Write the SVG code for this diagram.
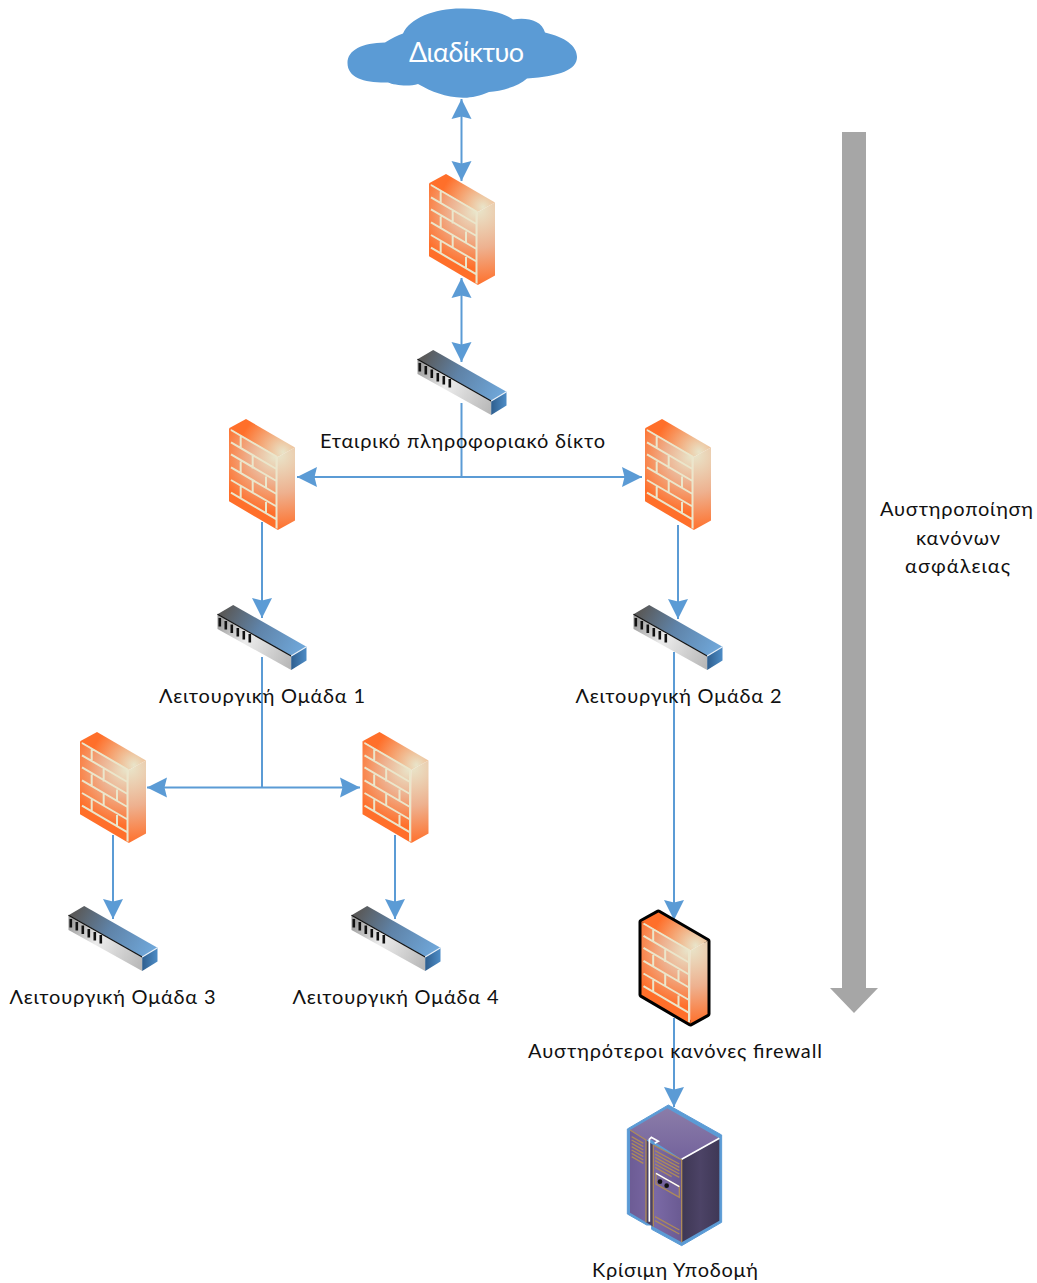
<svg xmlns="http://www.w3.org/2000/svg" width="1037" height="1283" viewBox="0 0 1037 1283">
<style>
.t{font-family:"Lato","Open Sans","Noto Sans",sans-serif;font-size:20px;fill:#111;text-anchor:middle}
.c{fill:none;stroke:#5b9bd5;stroke-width:2}
.b{fill:none;stroke:#ebe6cb;stroke-width:2}
.l{fill:none;stroke:#ad8a5a;stroke-width:4}
</style>
<defs>
<marker id="a" markerUnits="userSpaceOnUse" markerWidth="22" markerHeight="22" refX="20" refY="10.5" orient="auto-start-reverse" viewBox="0 0 22 22"><path d="M0 0.5L20 10.5L0 20.5L2.500 10.5Z" fill="#5b9bd5"/></marker>
<radialGradient id="ff" gradientUnits="userSpaceOnUse" cx="46" cy="38" r="56"><stop offset="0" stop-color="#e9e4c9"/><stop offset=".45" stop-color="#eeb18f"/><stop offset="1" stop-color="#ff6f2a"/></radialGradient>
<radialGradient id="fs" gradientUnits="userSpaceOnUse" cx="50" cy="36" r="76"><stop offset="0" stop-color="#e9e4c9"/><stop offset=".5" stop-color="#eeb18f"/><stop offset="1" stop-color="#ff6f2a"/></radialGradient>
<radialGradient id="ft" gradientUnits="userSpaceOnUse" cx="54" cy="33" r="44"><stop offset="0" stop-color="#e9e4c9"/><stop offset="1" stop-color="#ff6f2a"/></radialGradient>
<linearGradient id="st" gradientUnits="userSpaceOnUse" x1="8" y1="5" x2="82" y2="46"><stop offset="0" stop-color="#5a5a5a"/><stop offset=".45" stop-color="#5f83a8"/><stop offset="1" stop-color="#6fa6d8"/></linearGradient>
<linearGradient id="sf" gradientUnits="userSpaceOnUse" x1="0" y1="16" x2="74" y2="58"><stop offset="0" stop-color="#9a9a9a"/><stop offset=".4" stop-color="#ececec"/><stop offset="1" stop-color="#b8b8b8"/></linearGradient>
<linearGradient id="ss" gradientUnits="userSpaceOnUse" x1="74" y1="52" x2="89" y2="52"><stop offset="0" stop-color="#2f5f8f"/><stop offset="1" stop-color="#4d8cc6"/></linearGradient>
<linearGradient id="vt" gradientUnits="userSpaceOnUse" x1="190" y1="60" x2="190" y2="200"><stop offset="0" stop-color="#8a7ca8"/><stop offset="1" stop-color="#75649d"/></linearGradient>
<linearGradient id="vf" gradientUnits="userSpaceOnUse" x1="60" y1="0" x2="215" y2="0"><stop offset="0" stop-color="#6d5c95"/><stop offset=".5" stop-color="#7a69a5"/><stop offset="1" stop-color="#6a5a92"/></linearGradient>
<linearGradient id="vs" gradientUnits="userSpaceOnUse" x1="215" y1="0" x2="328" y2="0"><stop offset="0" stop-color="#3e3754"/><stop offset=".5" stop-color="#4c4366"/><stop offset="1" stop-color="#3f3856"/></linearGradient>
<g id="fw">
<path d="M0 9.300L48.800 38V111L0 82.300Z" fill="url(#ff)"/>
<path d="M0 9.300L17 0L66 28.500L48.800 38Z" fill="url(#ft)"/>
<path d="M48.800 38L66 28.500V101.500L48.800 111Z" fill="url(#fs)"/>
<path class="b" d="M2 11L47.500 37.500V109.500M2 23.300L47.500 50M2 35.300L47.500 62M2 48.300L47.500 75M2 61L47.500 87.500M2 73.700L47.500 100.300M11.700 17.500V29.500M23.700 37V49.500M11.700 42.500V54.500M37 57.500V69.500M23.700 61V73.500M11.700 67.500V79.500M37 83V95"/>
</g>
<g id="sw">
<path d="M0 9.300L15.700 0L89 41.700L73.700 51Z" fill="url(#st)"/>
<path d="M0 9.300L73.700 51V65L0 24Z" fill="url(#sf)"/>
<path d="M73.700 51L89 41.700V55.500L73.700 65Z" fill="url(#ss)"/>
<path d="M0 9.300L73.700 51" stroke="#111" stroke-width="1.200" fill="none"/>
<path d="M73.700 51L89 41.700" stroke="#e8f0f8" stroke-width="1.200" fill="none"/>
<path d="M2.300 13V21.500M8.300 16V24.500M14.300 19.500V28M20.300 23V31.500M26.300 26V34.500M32.300 29V37.500" stroke="#111" stroke-width="2.600" fill="none"/>
</g>
</defs>

<g id="arrow-scale"><path d="M842 132H866V988H878L854 1013L830 988H842Z" fill="#a6a6a6"/></g>

<g id="connectors">
<path class="c" d="M461.500 99V181" marker-start="url(#a)" marker-end="url(#a)"/>
<path class="c" d="M461.500 278V362" marker-start="url(#a)" marker-end="url(#a)"/>
<path class="c" d="M461.500 403V477"/>
<path class="c" d="M297 477H642" marker-start="url(#a)" marker-end="url(#a)"/>
<path class="c" d="M262 522V618" marker-end="url(#a)"/>
<path class="c" d="M678 525V619" marker-end="url(#a)"/>
<path class="c" d="M262 657V787.500"/>
<path class="c" d="M147 787.500H360" marker-start="url(#a)" marker-end="url(#a)"/>
<path class="c" d="M113 835V919" marker-end="url(#a)"/>
<path class="c" d="M395 835V919" marker-end="url(#a)"/>
<path class="c" d="M674 652V920" marker-end="url(#a)"/>
<path class="c" d="M674 1018V1107" marker-end="url(#a)"/>
</g>

<g id="internet">
<path d="M347.500 63C347.500 50 362 43 385 42.500C392 38 398 35 403 33.500C410 18 435 8 463 8.500C490 9 504 13 513 19.500C526 17 542 20 545 32.500C565 37 577 46 577 57C577 70 560 76 527 78.500C518 87 500 91 489 92C480 96 470 98 463 97.700C445 97 432 92 418 84C408 87 394 85 388 82.500C365 83 347.500 78 347.500 63Z" fill="#5b9bd5"/>
<text x="466.500" y="62" style="font-family:Lato,'Open Sans','Noto Sans',sans-serif;font-size:27px;fill:#fff;text-anchor:middle" textLength="115" lengthAdjust="spacing">Διαδίκτυο</text>
</g>

<g id="fw1"><use href="#fw" x="429" y="174"/></g>
<g id="sw1"><use href="#sw" x="417.500" y="350"/></g>
<g id="corp"><text class="t" x="462.500" y="448" textLength="285" lengthAdjust="spacing">Εταιρικό πληροφοριακό δίκτο</text></g>
<g id="fw2"><use href="#fw" x="229" y="419"/></g>
<g id="fw3"><use href="#fw" x="645" y="419"/></g>
<g id="sw2"><use href="#sw" x="217.500" y="605"/><text class="t" x="262" y="703" textLength="206" lengthAdjust="spacing">Λειτουργική Ομάδα 1</text></g>
<g id="sw3"><use href="#sw" x="633.500" y="605"/><text class="t" x="678.500" y="703" textLength="206" lengthAdjust="spacing">Λειτουργική Ομάδα 2</text></g>
<g id="fw4"><use href="#fw" x="80" y="732"/></g>
<g id="fw5"><use href="#fw" x="362.500" y="732"/></g>
<g id="sw4"><use href="#sw" x="68.500" y="906"/><text class="t" x="112.500" y="1004" textLength="206" lengthAdjust="spacing">Λειτουργική Ομάδα 3</text></g>
<g id="sw5"><use href="#sw" x="351.500" y="906"/><text class="t" x="395.500" y="1004" textLength="206" lengthAdjust="spacing">Λειτουργική Ομάδα 4</text></g>

<g id="fw6">
<path transform="translate(641.500 912.500)" d="M0 9.300L17 0L66 28.500V101.500L48.800 111L0 82.300Z" fill="none" stroke="#000" stroke-width="6" stroke-linejoin="round"/>
<use href="#fw" x="641.500" y="912.500"/>
<text class="t" x="675" y="1058" textLength="294" lengthAdjust="spacing">Αυστηρότεροι κανόνες firewall</text>
</g>

<g id="server">
<g transform="translate(610 1090) scale(.3333)">
<path d="M175 45L52 117V372L110 405H125V418L215 467L335 397V135Z" fill="#5b9bd5" stroke="#5b9bd5" stroke-width="3" stroke-linejoin="round"/>
<path d="M172 55L60 120L108 150H125L215 208L328 145Z" fill="url(#vt)"/>
<path d="M60 120L108 150V397L60 368Z" fill="url(#vf)"/>
<path d="M130 165L215 210V457L130 410Z" fill="url(#vf)"/>
<path d="M108 150L130 165V410L108 397Z" fill="#4a4163"/>
<path d="M215 208L328 145V392L215 457Z" fill="url(#vs)"/>
<path class="l" d="M60 120L108 150V397M130 165L215 210V457M130 165V410"/>
<path d="M118 395V148L124 142L145 154L134 160M215 208L328 145" fill="none" stroke="#fff" stroke-width="5"/>
<path class="l" d="M65 140L100 160M65 150L100 170M65 160L100 180M65 170L100 190M65 180L100 200M65 190L100 210M65 200L100 220M135 182L208 222M135 192L208 232M135 202L208 242M135 212L208 252M135 222L208 262M135 232L185 260M135 380L208 420M135 392L208 432"/>
<path d="M138 250V282L208 322V290Z" fill="#75649d" stroke="#ad8a5a" stroke-width="4"/>
<path d="M138 250L208 290" stroke="#fff" stroke-width="4"/>
<circle cx="150" cy="275" r="7" fill="#111"/><circle cx="170" cy="287" r="7" fill="#111"/>
</g>
<text class="t" x="675" y="1277" textLength="166" lengthAdjust="spacing">Κρίσιμη Υποδομή</text>
</g>

<g id="rules">
<text class="t" x="956.500" y="516" textLength="153" lengthAdjust="spacing">Αυστηροποίηση</text>
<text class="t" x="958" y="545" textLength="84" lengthAdjust="spacing">κανόνων</text>
<text class="t" x="957.500" y="573" textLength="105" lengthAdjust="spacing">ασφάλειας</text>
</g>
</svg>
